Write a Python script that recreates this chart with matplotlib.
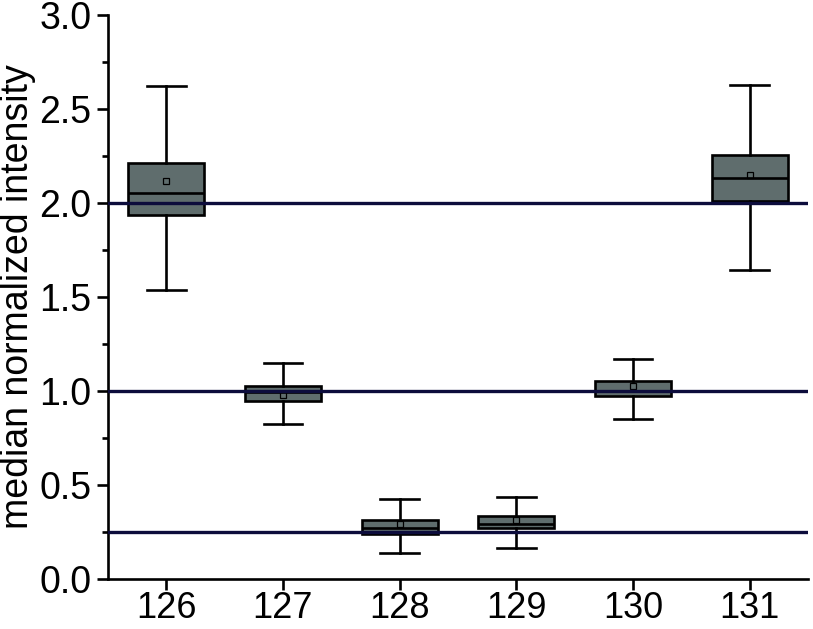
import matplotlib
matplotlib.use("Agg")
import matplotlib.pyplot as plt
from matplotlib.ticker import MultipleLocator

plt.rcParams['font.family'] = ['Liberation Sans', 'DejaVu Sans']

channels = [126, 127, 128, 129, 130, 131]
whisker_low = [1.536, 0.827, 0.137, 0.164, 0.851, 1.645]
q1 = [1.936, 0.947, 0.238, 0.269, 0.971, 2.010]
median = [2.051, 0.995, 0.273, 0.292, 1.000, 2.131]
q3 = [2.211, 1.028, 0.314, 0.336, 1.051, 2.255]
whisker_high = [2.621, 1.149, 0.424, 0.436, 1.172, 2.630]
mean = [2.120, 0.980, 0.293, 0.314, 1.025, 2.149]
reference_levels = [2.0, 1.0, 0.25]
y_label = "median normalized intensity"

fig = plt.figure(figsize=(8.13, 6.29), dpi=100)
ax = fig.add_axes([0.1328, 0.0795, 0.861, 0.8965])

stats = []
for i, c in enumerate(channels):
    stats.append(dict(med=median[i], q1=q1[i], q3=q3[i],
                      whislo=whisker_low[i], whishi=whisker_high[i],
                      mean=mean[i], fliers=[], label=str(c)))

box_color = '#5f6d6d'
lw = 1.9
ax.bxp(stats, positions=channels, widths=0.65, showmeans=True,
       patch_artist=True, showfliers=False,
       boxprops=dict(facecolor=box_color, edgecolor='black', linewidth=lw),
       medianprops=dict(color='black', linewidth=lw),
       whiskerprops=dict(color='black', linewidth=lw),
       capprops=dict(color='black', linewidth=lw),
       capwidths=0.33,
       meanprops=dict(marker='s', markersize=5, markerfacecolor='none',
                      markeredgecolor='black', markeredgewidth=0.9),
       zorder=2)

for lvl in reference_levels:
    ax.axhline(lvl, color='#0c0c3c', linewidth=2.4, zorder=3)

ax.set_xlim(125.5, 131.5)
ax.set_ylim(0, 3.0)
ax.set_xticks(channels)
ax.set_xticklabels([str(c) for c in channels])
ax.yaxis.set_major_locator(MultipleLocator(0.5))
ax.yaxis.set_minor_locator(MultipleLocator(0.25))
ax.yaxis.set_major_formatter(matplotlib.ticker.FormatStrFormatter('%.1f'))

for s in ['top', 'right']:
    ax.spines[s].set_visible(False)
for s in ['left', 'bottom']:
    ax.spines[s].set_linewidth(1.9)

ax.tick_params(axis='y', which='major', direction='out', length=8,
               width=1.9, labelsize=27, pad=4)
ax.tick_params(axis='x', which='major', direction='out', length=8,
               width=1.9, labelsize=26, pad=0.5)
ax.tick_params(axis='y', which='minor', direction='out', length=4, width=1.9)
ax.tick_params(axis='x', which='minor', bottom=False)

ax.set_ylabel(y_label, fontsize=27, labelpad=2)

fig.savefig("out.png", dpi=100)
